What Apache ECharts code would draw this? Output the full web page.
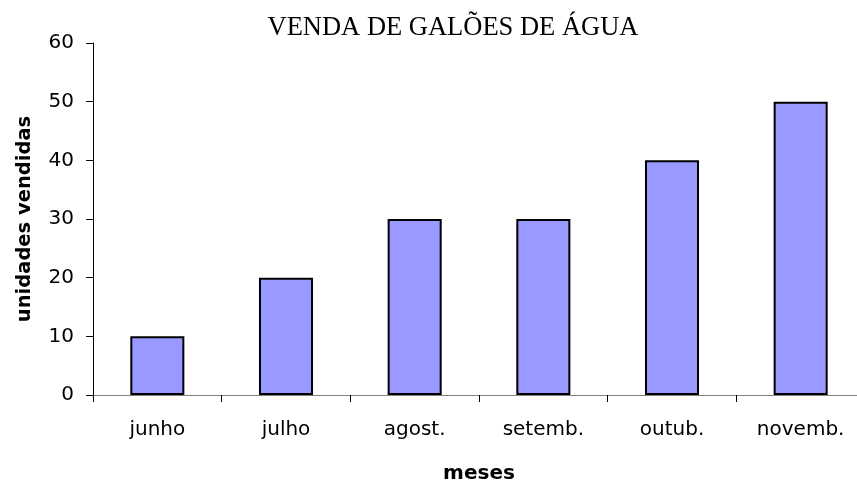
<!DOCTYPE html>
<html>
<head>
<meta charset="utf-8">
<script src="https://cdn.jsdelivr.net/npm/echarts@6/dist/echarts.min.js"></script>
<style>
  html, body { margin: 0; padding: 0; background: #fff; }
  #chart { width: 857px; height: 483px; }
</style>
</head>
<body>
<div id="chart"></div>
<script>
// dados
const meses = ['junho', 'julho', 'agost.', 'setemb.', 'outub.', 'novemb.'];
const unidades = [10, 20, 30, 30, 40, 50];

const myChart = echarts.init(document.getElementById('chart'));
const option = {
  animation: false,
  title: {
    text: 'VENDA DE GALÕES DE ÁGUA',
    left: 448,
    textAlign: 'center',
    top: 10,
    textStyle: {
      fontFamily: 'Liberation Serif',
      fontWeight: 'normal',
      fontSize: 26.5,
      color: '#000'
    }
  },
  grid: {
    left: 93,
    right: -8,
    top: 43,
    bottom: 88,
    outerBoundsMode: 'none'
  },
  xAxis: {
    type: 'category',
    data: meses,
    name: 'meses',
    nameLocation: 'middle',
    nameGap: 69,
    nameTextStyle: {
      fontFamily: 'DejaVu Sans',
      fontWeight: 'bold',
      fontSize: 20,
      color: '#000'
    },
    axisLine: { lineStyle: { color: '#808080', width: 1 } },
    axisTick: { show: true, length: 7, lineStyle: { color: '#000' } },
    axisLabel: {
      margin: 25,
      fontFamily: 'DejaVu Sans',
      fontSize: 20,
      color: '#000'
    }
  },
  yAxis: {
    type: 'value',
    min: 0,
    max: 60,
    interval: 10,
    name: 'unidades vendidas',
    nameLocation: 'middle',
    nameGap: 58,
    nameTextStyle: {
      fontFamily: 'DejaVu Sans',
      fontWeight: 'bold',
      fontSize: 19.5,
      color: '#000'
    },
    splitLine: { show: false },
    axisLine: { show: true, lineStyle: { color: '#000', width: 1 } },
    axisTick: { show: true, length: 7, lineStyle: { color: '#000' } },
    axisLabel: {
      margin: 19,
      fontFamily: 'DejaVu Sans',
      fontSize: 20,
      color: '#000'
    }
  },
  series: [
    {
      type: 'bar',
      data: unidades,
      barWidth: '42%',
      itemStyle: {
        color: '#9999FF',
        borderColor: '#000',
        borderWidth: 2
      }
    }
  ]
};
myChart.setOption(option);
</script>
</body>
</html>
